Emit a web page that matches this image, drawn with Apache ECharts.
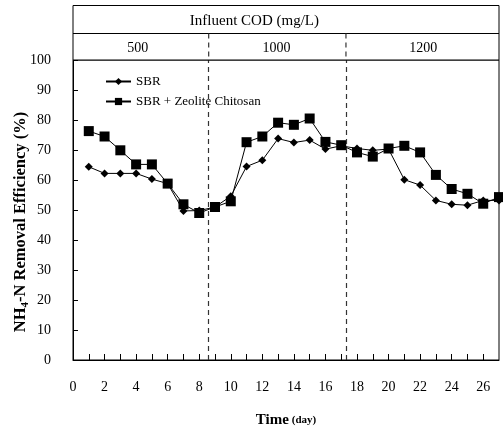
<!DOCTYPE html>
<html>
<head>
<meta charset="utf-8">
<script src="https://cdn.jsdelivr.net/npm/echarts@6/dist/echarts.min.js"></script>
<style>
  html, body { margin: 0; padding: 0; background: #fff; }
  #chart { width: 503px; height: 433px; }
</style>
</head>
<body>
<div id="chart"></div>
<script>
// days of operation
var days = [1, 2, 3, 4, 5, 6, 7, 8, 9, 10, 11, 12, 13, 14, 15, 16, 17, 18, 19, 20, 21, 22, 23, 24, 25, 26, 27]
// NH4-N removal efficiency (%)
var sbr = [64.4, 62.2, 62.2, 62.2, 60.3, 58.8, 49.7, 49.8, 51.0, 54.6, 64.5, 66.6, 73.8, 72.5, 73.3, 70.3, 71.4, 70.5, 69.9, 70.3, 60.1, 58.3, 53.2, 51.9, 51.6, 53.2, 53.2]
var sbrZc = [76.3, 74.5, 69.9, 65.2, 65.2, 58.8, 51.9, 49.0, 51.0, 52.9, 72.6, 74.5, 79.1, 78.4, 80.5, 72.7, 71.6, 69.2, 67.8, 70.5, 71.4, 69.2, 61.7, 57.0, 55.4, 52.1, 54.3]
// influent COD phases
var phaseLabels = ['500', '1000', '1200']
var phaseBreaks = [8.6, 17.3]
var phaseCenters = [4.1, 12.9, 22.2]

var serif = '"Liberation Serif", "Times New Roman", serif'

function pairs(ys) {
  return days.map(function (d, i) { return [d, ys[i]] })
}

var chart = echarts.init(document.getElementById('chart'))

var option = {
  animation: false,
  textStyle: { fontFamily: serif, color: '#000' },
  grid: {
    left: 73, right: 4, top: 60, bottom: 68,
    show: true, borderColor: '#000', borderWidth: 1
  },
  legend: {
    orient: 'vertical',
    left: 100, top: 70,
    itemWidth: 25, itemHeight: 9, itemGap: 7,
    textStyle: { fontFamily: serif, fontSize: 13, color: '#000' },
    data: ['SBR', 'SBR + Zeolite Chitosan']
  },
  xAxis: {
    type: 'value', min: 0, max: 27, interval: 1,
    axisLine: { lineStyle: { color: '#000', width: 1 } },
    axisTick: { inside: true, length: 6, lineStyle: { color: '#000' } },
    splitLine: { show: false },
    axisLabel: {
      color: '#000', fontSize: 14, fontFamily: serif, margin: 20,
      showMaxLabel: false,
      formatter: function (v) { return v % 2 === 0 ? String(v) : '' }
    },
    name: '{a|Time} {b|(day)}',
    nameLocation: 'middle', nameGap: 53,
    nameTextStyle: {
      rich: {
        a: { fontFamily: serif, fontWeight: 'bold', fontSize: 15, color: '#000' },
        b: { fontFamily: serif, fontWeight: 'bold', fontSize: 11, color: '#000' }
      }
    }
  },
  yAxis: {
    type: 'value', min: 0, max: 100, interval: 10,
    axisLine: { show: true, lineStyle: { color: '#000', width: 1 } },
    axisTick: { show: true, inside: true, length: 5, lineStyle: { color: '#000' } },
    splitLine: { show: false },
    axisLabel: { color: '#000', fontSize: 14, fontFamily: serif, margin: 22 }
  },
  series: [
    {
      name: 'SBR', type: 'line', data: pairs(sbr),
      symbol: 'diamond', symbolSize: 8,
      lineStyle: { color: '#000', width: 1 },
      itemStyle: { color: '#000' },
      markLine: {
        silent: true, symbol: 'none', label: { show: false },
        lineStyle: { color: '#333', type: [5, 4], width: 1.2 },
        data: phaseBreaks.map(function (x) { return { xAxis: x } })
      }
    },
    {
      name: 'SBR + Zeolite Chitosan', type: 'line', data: pairs(sbrZc),
      symbol: 'rect', symbolSize: 10,
      lineStyle: { color: '#000', width: 1 },
      itemStyle: { color: '#000' }
    }
  ]
}

chart.setOption(option)

// header table: influent COD per phase
function buildHeader() {
  function px(x) { return chart.convertToPixel({ xAxisIndex: 0 }, x) }
  var x0 = px(0), x1 = px(27)
  var yTop = 5.5, yMid = 33.5, yBot = 60
  var els = [
    { type: 'rect', z: 100, shape: { x: x0, y: yTop, width: x1 - x0, height: yBot - yTop },
      style: { fill: '#fff', stroke: '#000', lineWidth: 1 } },
    { type: 'line', z: 101, shape: { x1: x0, y1: yMid, x2: x1, y2: yMid },
      style: { stroke: '#000', lineWidth: 1 } },
    { type: 'text', z: 101, x: px(11.5), y: (yTop + yMid) / 2 + 2,
      style: { text: 'Influent COD (mg/L)', font: '15px ' + serif, fill: '#000', align: 'center', verticalAlign: 'middle' } }
  ]
  phaseBreaks.forEach(function (b) {
    els.push({ type: 'line', z: 101, shape: { x1: px(b), y1: yMid, x2: px(b), y2: yBot },
      style: { stroke: '#333', lineWidth: 1.2, lineDash: [5, 4] } })
  })
  phaseLabels.forEach(function (t, i) {
    els.push({ type: 'text', z: 101, x: px(phaseCenters[i]), y: (yMid + yBot) / 2 + 2,
      style: { text: t, font: '14px ' + serif, fill: '#000', align: 'center', verticalAlign: 'middle' } })
  })
  // y axis title with subscript
  els.push({
    type: 'text', z: 101, x: 21, y: 222, rotation: Math.PI / 2,
    style: {
      text: '{a|NH}{s|4}{a|-N Removal Efficiency (%)}',
      align: 'center', verticalAlign: 'middle',
      rich: {
        a: { fontFamily: serif, fontWeight: 'bold', fontSize: 16.5, fill: '#000', lineHeight: 19 },
        s: { fontFamily: serif, fontWeight: 'bold', fontSize: 11, fill: '#000', lineHeight: 19, padding: [8, 0, 0, 0] }
      }
    }
  })
  chart.setOption({ graphic: els })
}
buildHeader()
</script>
</body>
</html>
